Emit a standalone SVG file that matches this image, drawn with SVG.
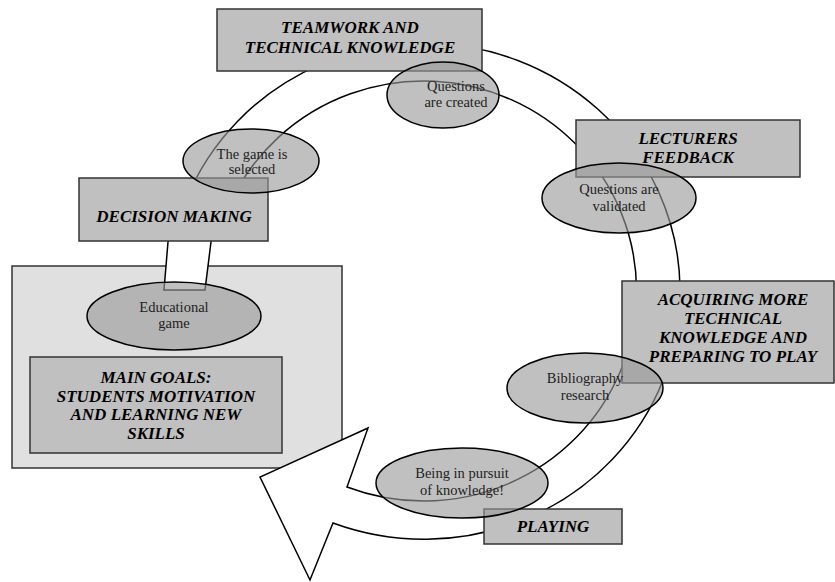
<svg xmlns="http://www.w3.org/2000/svg" width="835" height="582" viewBox="0 0 835 582">
<style>
.box{fill:#c0c0c0;stroke:#333;stroke-width:1.5}
.ell{fill:#999;fill-opacity:0.62;stroke:#000;stroke-width:1.5}
.bt{font-family:"Liberation Serif","Times New Roman",serif;font-weight:bold;font-style:italic;font-size:17px;text-anchor:middle;fill:#000}
.et{font-family:"Liberation Serif","Times New Roman",serif;font-size:14.5px;text-anchor:middle;fill:#222}
</style>
<rect width="835" height="582" fill="#fff"/>
<g id="main-goals-area">
<rect x="12" y="266" width="330" height="202" fill="#e0e0e0" stroke="#333" stroke-width="1.5"/>
</g>
<g id="connectors">
<path d="M164,290 L168,242 L186,200 A256 248 0 1 1 333,523 L310,580 L260,477 L368,428 L347,487 A213 210 0 1 0 231.6,200 L211,242 L205,290 Z" fill="#fff" stroke="#000" stroke-width="1.5" stroke-linejoin="miter"/>
</g>
<g id="teamwork">
<rect class="box" x="217" y="9" width="265" height="62"/>
<text class="bt" x="350" y="33">TEAMWORK AND</text>
<text class="bt" x="350" y="53">TECHNICAL KNOWLEDGE</text>
</g>
<g id="lecturers">
<rect class="box" x="576" y="120" width="224" height="57"/>
<text class="bt" x="688" y="144">LECTURERS</text>
<text class="bt" x="688" y="163">FEEDBACK</text>
</g>
<g id="decision">
<rect class="box" x="79" y="178" width="189" height="63"/>
<text class="bt" x="174" y="222">DECISION MAKING</text>
</g>
<g id="goals">
<rect class="box" x="30" y="357" width="252" height="96"/>
<text class="bt" x="156" y="383">MAIN GOALS:</text>
<text class="bt" x="156" y="401.5">STUDENTS MOTIVATION</text>
<text class="bt" x="156" y="420">AND LEARNING NEW</text>
<text class="bt" x="156" y="438.5">SKILLS</text>
</g>
<g id="acquiring">
<rect class="box" x="622" y="281" width="212" height="102"/>
<text class="bt" x="733" y="305">ACQUIRING MORE</text>
<text class="bt" x="733" y="324">TECHNICAL</text>
<text class="bt" x="733" y="343">KNOWLEDGE AND</text>
<text class="bt" x="733" y="362">PREPARING TO PLAY</text>
</g>
<g id="playing">
<rect class="box" x="484" y="509" width="138" height="35"/>
<text class="bt" x="553" y="532">PLAYING</text>
</g>
<g id="questions-created">
<ellipse class="ell" cx="443" cy="95" rx="56" ry="33"/>
<text class="et" x="456" y="91">Questions</text>
<text class="et" x="456" y="107">are created</text>
</g>
<g id="game-selected">
<ellipse class="ell" cx="251" cy="161" rx="68" ry="32"/>
<text class="et" x="252" y="159">The game is</text>
<text class="et" x="252" y="174">selected</text>
</g>
<g id="questions-validated">
<ellipse class="ell" cx="619" cy="198" rx="77" ry="35"/>
<text class="et" x="619" y="194">Questions are</text>
<text class="et" x="619" y="211">validated</text>
</g>
<g id="educational-game">
<ellipse class="ell" cx="174" cy="316" rx="87" ry="34"/>
<text class="et" x="174" y="311.5">Educational</text>
<text class="et" x="174" y="328">game</text>
</g>
<g id="bibliography">
<ellipse class="ell" cx="585" cy="388" rx="78" ry="35"/>
<text class="et" x="585" y="383">Bibliography</text>
<text class="et" x="585" y="400">research</text>
</g>
<g id="pursuit">
<ellipse class="ell" cx="462" cy="483" rx="86" ry="35"/>
<text class="et" x="462" y="478">Being in pursuit</text>
<text class="et" x="462" y="495">of knowledge!</text>
</g>
</svg>
